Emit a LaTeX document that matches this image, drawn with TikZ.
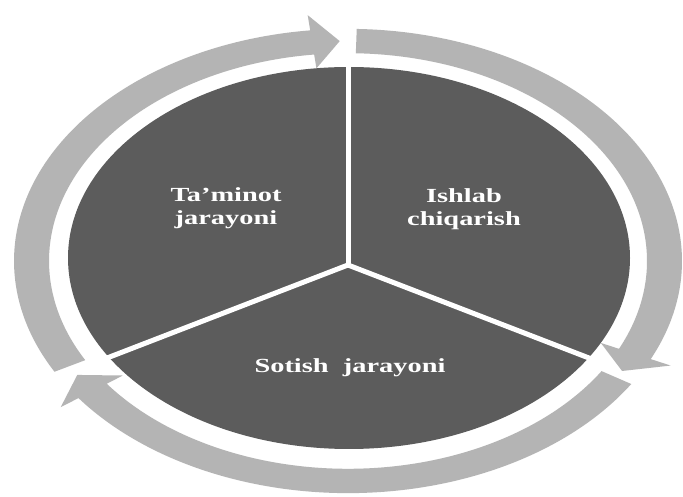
\documentclass[tikz,border=0pt]{standalone}
\usepackage{fontspec}
\setmainfont{Liberation Serif}
\definecolor{piegray}{RGB}{92,92,92}
\definecolor{ringgray}{RGB}{180,180,180}
\begin{document}
\begin{tikzpicture}[x=1pt,y=1pt,
  ringseg/.style={fill=ringgray},
  sepline/.style={draw=white,line width=5pt},
  pietext/.style={text=white,font=\bfseries\fontsize{20}{23}\selectfont,align=center,xscale=1.42,inner sep=0pt}]
\useasboundingbox (0,0) rectangle (683,497);
\fill[white] (0,0) rectangle (683,497);
% pie
\fill[piegray] (349,239) ellipse [x radius=281, y radius=191];
% ring of arrows
\def\rgO{334}\def\rgI{299}\def\hdO{356}\def\hdI{279}\def\rgM{316.5}
\begin{scope}[shift={(348,236)}, yscale=0.695]
  % A: left side up to top, head pointing right
  \fill[ringseg] (208.5:\rgO) arc[start angle=208.5,end angle=96.5,radius=\rgO]
    -- (96.5:\hdO) -- (91.5:\rgM) -- (96.5:\hdI) -- (96.5:\rgI)
    arc[start angle=96.5,end angle=208.5,radius=\rgI] -- cycle;
  % B: top round right side, head pointing down-left
  \fill[ringseg] (88.5:\rgO) arc[start angle=88.5,end angle=-25,radius=\rgO]
    -- (-25:\hdO) -- (-30:\rgM) -- (-25:\hdI) -- (-25:\rgI)
    arc[start angle=-25,end angle=88.5,radius=\rgI] -- cycle;
  % C: bottom, head pointing up-left
  \fill[ringseg] (-32:\rgO) arc[start angle=-32,end angle=-143.8,radius=\rgO]
    -- (-143.8:\hdO) -- (-148.8:\rgM) -- (-143.8:\hdI) -- (-143.8:\rgI)
    arc[start angle=-143.8,end angle=-32,radius=\rgI] -- cycle;
  \coordinate (t1) at (90:302);
  \coordinate (t2) at (-30:302);
  \coordinate (t3) at (210:302);
\end{scope}
% separators
\coordinate (m) at (348,232);
\draw[sepline] (m) -- (t1);
\draw[sepline] (m) -- (t2);
\draw[sepline] (m) -- (t3);
% labels
\node[pietext] (taminot) at (226,289) {Ta’minot\\jarayoni};
\node[pietext] (ishlab) at (464,288) {Ishlab\\chiqarish};
\node[pietext] (sotish) at (350,129) {Sotish\hspace{0.5em}jarayoni};
\end{tikzpicture}
\end{document}
